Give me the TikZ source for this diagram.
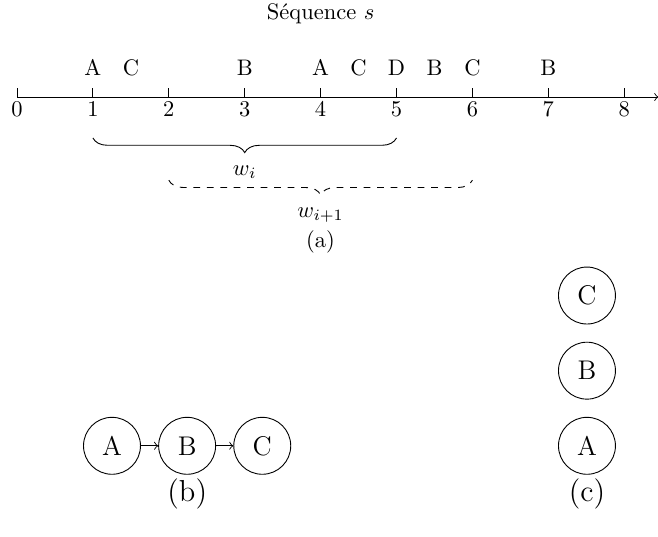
\documentclass[tikz,border=0pt]{standalone}
\usepackage{tikz}
\usetikzlibrary{positioning,decorations.pathreplacing}
\tikzset{
  etat/.style={draw,circle,minimum size=0.89cm,inner sep=0pt,font=\large},
  fleche/.style={->},
  accolade/.style={decorate,decoration={brace,mirror,amplitude=6.5pt}},
  evt/.style={anchor=base,inner sep=0pt},
  legende/.style={font=\fontsize{13.5}{16}\selectfont},
}

\begin{document}
\begin{tikzpicture}
  \useasboundingbox (-0.266,1.516) rectangle (10.016,-6.875);
  % (a) sequence on the time axis
  \begin{scope}[x=1.186cm]
    \coordinate (debut) at (0,0);
    \coordinate (fin) at (8.45,0);
    \draw[fleche] (debut) -- (fin);
    \foreach \i in {0,...,8} {
      \draw (\i,0) -- (\i,0.14);
      \node[evt] (n\i) at (\i,-0.31) {\i};
    }
    \foreach \x/\l [count=\k] in {1/A,1.5/C,3/B,4/A,4.5/C,5/D,5.5/B,6/C,7/B}
      \node[evt] (e\k) at (\x,0.34) {\l};
    \node (titre) at (4,1.3) {S\'equence $s$};
    % sliding windows
    \draw[accolade] (1,-0.64) -- (5,-0.64)
      node[midway,below=10pt,inner sep=2pt] (wi) {$w_i$};
    \draw[accolade,dashed] (2,-1.3) -- (6,-1.3)
      node[midway,below=10pt,inner sep=2pt] (wj) {$w_{i+1}$};
    \node (la) at (4,-2.27) {(a)};
  \end{scope}
  % (b) chain of events
  \node[etat] (ba) at (1.484,-5.45) {A};
  \node[etat,right=0.27cm of ba] (bb) {B};
  \node[etat,right=0.27cm of bb] (bc) {C};
  \draw[fleche] (ba) -- (bb);
  \draw[fleche] (bb) -- (bc);
  \node[legende] (lb) at (2.66,-6.2) {(b)};
  % (c) stacked events
  \node[etat] (ca) at (8.906,-5.45) {A};
  \node[etat,above=0.27cm of ca] (cb) {B};
  \node[etat,above=0.27cm of cb] (cc) {C};
  \node[legende] (lc) at (8.906,-6.2) {(c)};
\end{tikzpicture}
\end{document}
